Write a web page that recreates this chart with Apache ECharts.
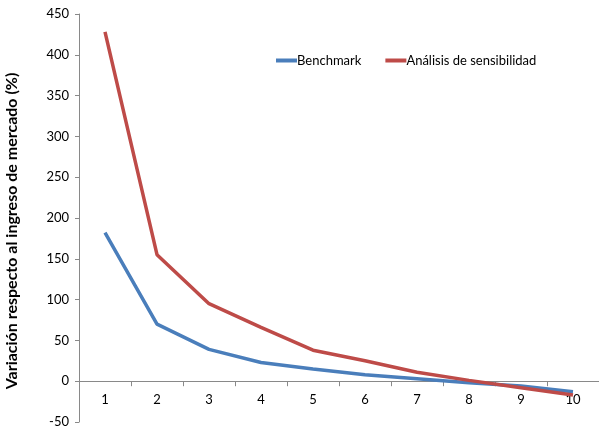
<!DOCTYPE html>
<html><head><meta charset="utf-8">
<script src="https://cdn.jsdelivr.net/npm/echarts@6/dist/echarts.min.js"></script>
<style>html,body{margin:0;padding:0;background:#fff}#c{width:599px;height:426px}</style>
</head><body><div id="c"></div>
<script>
const categories = ['1','2','3','4','5','6','7','8','9','10'];
const benchmark = [182, 70, 39, 23, 15, 8, 3, -2, -6, -13];
const sensibilidad = [428, 155, 95, 66, 38, 25, 11, 1, -8, -17];
const seriesNames = ['Benchmark', 'Análisis de sensibilidad'];
const yAxisTitle = 'Variación respecto al ingreso de mercado (%)';

const chart = echarts.init(document.getElementById('c'));
const font = 'Lato, "Open Sans", sans-serif';
const gridTop = 14, gridBottom = 4, yMin = -50, yMax = 450;
const plotH = 426 - gridTop - gridBottom;
const zeroOffset = plotH * (0 - yMin) / (yMax - yMin);
chart.setOption({
  animation: false,
  textStyle: {fontFamily: font},
  legend: {
    left: 271, top: 49, itemWidth: 21, itemHeight: 4, itemGap: 24,
    icon: 'rect',
    textStyle: {fontSize: 13, color: '#000', fontFamily: font, padding: [0,0,0,-5]},
    data: seriesNames
  },
  grid: {left: 79, right: 0, top: gridTop, bottom: gridBottom, containLabel: false, outerBoundsMode: 'none'},
  xAxis: {
    type: 'category', data: categories, boundaryGap: true, position: 'bottom',
    offset: -zeroOffset,
    axisLine: {onZero: false, lineStyle: {color: '#898989', width: 1}},
    axisTick: {show: true, length: 5, lineStyle: {color: '#898989'}},
    axisLabel: {fontSize: 13, color: '#000', margin: 12, fontFamily: font},
    splitLine: {show: false}
  },
  yAxis: {
    type: 'value', min: yMin, max: yMax, interval: 50,
    name: yAxisTitle, nameLocation: 'middle', nameGap: 59, nameRotate: 90,
    nameTextStyle: {fontSize: 16, fontWeight: 'bold', color: '#000', fontFamily: font, padding: [0,26,0,0]},
    axisLine: {show: true, lineStyle: {color: '#898989'}},
    axisTick: {show: true, length: 4, lineStyle: {color: '#898989'}},
    axisLabel: {fontSize: 13, color: '#000', margin: 10, fontFamily: font},
    splitLine: {show: false}
  },
  series: [
    {name: seriesNames[0], type: 'line', data: benchmark, symbol: 'none',
     lineStyle: {color: '#4A7EBB', width: 3.5}, itemStyle: {color: '#4A7EBB'}},
    {name: seriesNames[1], type: 'line', data: sensibilidad, symbol: 'none',
     lineStyle: {color: '#BE4B48', width: 3.5}, itemStyle: {color: '#BE4B48'}}
  ]
});
</script></body></html>
